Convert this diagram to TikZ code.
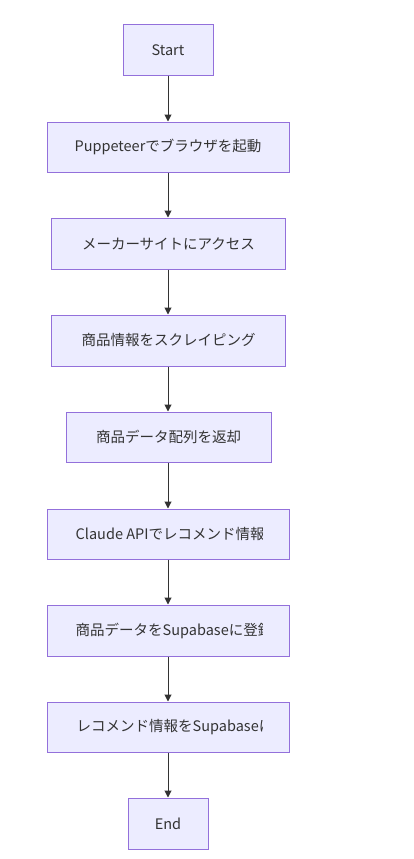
\documentclass[tikz,border=0pt]{standalone}
\usepackage{fontspec}
\setmainfont{Noto Sans CJK JP}
\usetikzlibrary{arrows.meta}
\definecolor{boxfill}{HTML}{ECECFF}
\definecolor{boxline}{HTML}{9370DB}
\definecolor{txt}{HTML}{333333}
\definecolor{edge}{HTML}{333333}
\tikzset{
  flowbox/.style={draw=boxline, fill=boxfill, line width=1pt, inner sep=0pt, text=txt,
    font=\fontsize{14.5}{17}\selectfont},
  lbl/.style={inner sep=0pt, text=txt, font=\fontsize{14.5}{17}\selectfont},
  flowarrow/.style={draw=edge, line width=1pt, -{Triangle[length=7pt,width=7pt]}}
}
\begin{document}
\begin{tikzpicture}[x=1pt,y=-1pt]
\useasboundingbox[fill=white] (0,0) rectangle (413,859);
\node[flowbox, minimum width=90pt, minimum height=50pt] (n1) at (168,50) {Start};
\node[flowbox, minimum width=242pt, minimum height=50pt] (n2) at (168,147) {Puppeteerでブラウザを起動};
\node[flowbox, minimum width=234pt, minimum height=51pt] (n3) at (168.5,243.5) {メーカーサイトにアクセス};
\node[flowbox, minimum width=234pt, minimum height=51pt] (n4) at (168.5,340.5) {商品情報をスクレイピング};
\node[flowbox, minimum width=205pt, minimum height=50pt] (n5) at (168.5,437) {商品データ配列を返却};
\node[flowbox, minimum width=242pt, minimum height=50pt] (n6) at (168,534) {};
\node[flowbox, minimum width=242pt, minimum height=51pt] (n7) at (168,630.5) {};
\node[flowbox, minimum width=242pt, minimum height=50pt] (n8) at (168,727) {};
\node[flowbox, minimum width=80pt, minimum height=51pt] (n9) at (168,823.5) {End};
\begin{scope}
  \clip (75,509) rectangle (262,752);
  \node[lbl, anchor=west] (t6) at (75.5,534) {Claude APIでレコメンド情報を生成};
  \node[lbl, anchor=west] (t7) at (75.5,630.5) {商品データをSupabaseに登録};
  \node[lbl, anchor=west] (t8) at (76.5,727) {レコメンド情報をSupabaseに登録};
\end{scope}
\foreach \a/\b in {n1/n2,n2/n3,n3/n4,n4/n5,n5/n6,n6/n7,n7/n8,n8/n9}{
  \draw[flowarrow] (\a.south -| n1.south) -- (\b.north -| n1.south);
}
\end{tikzpicture}
\end{document}
